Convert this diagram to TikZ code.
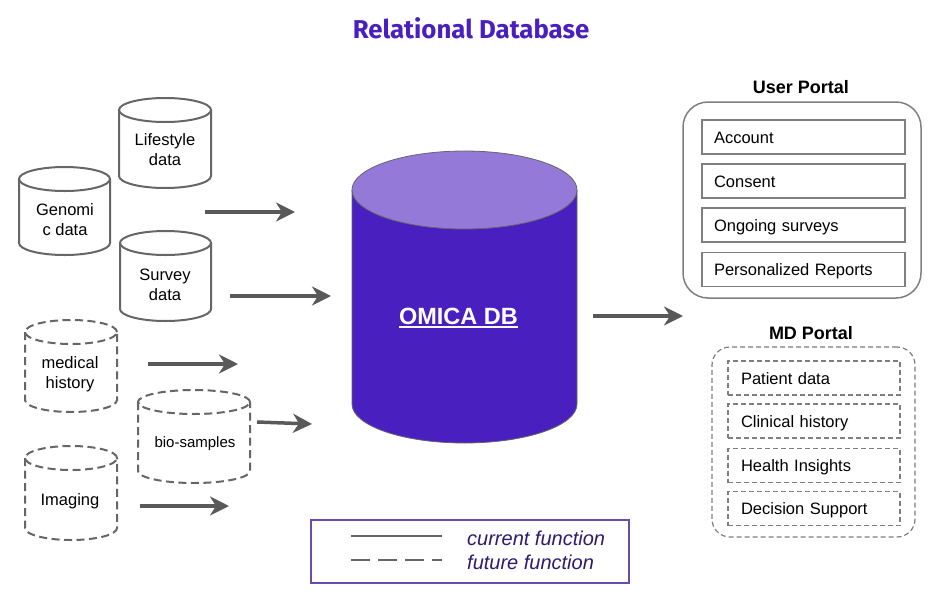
\documentclass[tikz,border=0pt]{standalone}
\usepackage{fontspec}
\setmainfont{Liberation Sans}
\newfontfamily\titlefont{Fira Sans}
\usetikzlibrary{arrows.meta}
\definecolor{arrowgray}{HTML}{595959}
\definecolor{cylgray}{HTML}{666666}
\definecolor{portalgray}{HTML}{7F7F7F}
\definecolor{titlepurple}{HTML}{4A1FC0}
\definecolor{dbbody}{HTML}{4A1FC0}
\definecolor{dbtop}{HTML}{9479D9}
\definecolor{legendpurple}{HTML}{6A4CB0}
\definecolor{legendtext}{HTML}{2E1A6E}
\newcommand\mycyl[7]{% name, x1, x2, ytop, ybot, ry, style
  \pgfmathsetmacro\cxc{(#2+#3)/2}%
  \pgfmathsetmacro\crx{(#3-#2)/2}%
  \draw[#7] (#2,#4+#6) -- (#2,#5-#6) arc[start angle=180,end angle=360,x radius=\crx pt,y radius=#6 pt] -- (#3,#4+#6);
  \draw[#7] (\cxc,#4+#6) ellipse[x radius=\crx pt, y radius=#6 pt];
  \coordinate (#1) at (\cxc,{(#4+#5)/2});
}
\begin{document}
\begin{tikzpicture}[x=1pt,y=-1pt,
  solidcyl/.style={draw=cylgray,line width=2pt},
  dashcyl/.style={draw=cylgray,line width=2pt,dash pattern=on 8pt off 4.5pt},
  cyltext/.style={font=\fontsize{16.5}{20}\selectfont,align=center,inner sep=0pt},
  arr/.style={draw=arrowgray,line width=3.5pt,-{Stealth[length=19pt,width=19pt,inset=6pt]}},
  portaltitle/.style={font=\fontsize{18}{20}\selectfont\bfseries},
  userbox/.style={draw=portalgray,line width=1.3pt,minimum height=34pt,text width=179pt,inner xsep=12pt,align=left,text height=12.4pt,text depth=0pt,font=\fontsize{16.5}{20}\selectfont},
  mdbox/.style={draw=portalgray,line width=1.2pt,dash pattern=on 5pt off 3pt,minimum height=34pt,text width=146pt,inner xsep=13pt,align=left,text height=12.2pt,text depth=0pt,font=\fontsize{16.5}{20}\selectfont},
  legline/.style={draw=cylgray,line width=2pt},
  legtext/.style={font=\fontsize{20}{22}\selectfont\itshape,text=legendtext,anchor=west,inner sep=0pt}
]
\useasboundingbox (0,0) rectangle (930,595);
\fill[white] (0,0) rectangle (930,595);

% title
\node[font=\titlefont\fontsize{25.8}{30}\selectfont\bfseries,text=titlepurple] (title) at (471,28) {Relational Database};

% source cylinders
\mycyl{lifecyl}{119}{211}{98}{188}{12}{solidcyl}
\mycyl{genocyl}{19}{110}{167}{255}{12}{solidcyl}
\mycyl{survcyl}{120}{211}{231}{321}{12}{solidcyl}
\mycyl{medcyl}{25}{117}{320}{412}{12}{dashcyl}
\mycyl{biocyl}{138}{250}{390}{483}{12}{dashcyl}
\mycyl{imgcyl}{25}{117}{446}{540}{12}{dashcyl}

\node[cyltext] (life) at (165,149.5) {Lifestyle\\data};
\node[cyltext] (geno) at (65,219.5) {Genomi\\c data};
\node[cyltext] (surv) at (165,284.5) {Survey\\data};
\node[cyltext] (med) at (70,374) {medical\\history};
\node[cyltext,font=\fontsize{15}{18}\selectfont] (bio) at (195,443.5) {bio-samples};
\node[cyltext] (img) at (70,501) {Imaging};

% OMICA DB
\fill[dbbody] (352,190) -- (352,404) arc[start angle=180,end angle=360,x radius=112.5pt,y radius=39pt] -- (577,190) -- cycle;
\draw[cylgray,line width=0.8pt] (352,190) -- (352,404) arc[start angle=180,end angle=360,x radius=112.5pt,y radius=39pt] -- (577,190);
\draw[cylgray,line width=0.8pt,fill=dbtop] (464.5,190) ellipse[x radius=112.5pt,y radius=39pt];
\node[font=\fontsize{23.5}{26}\selectfont\bfseries,text=white,anchor=base,inner sep=0pt] (omica) at (458.5,324) {OMICA DB};
\draw[white,line width=1.6pt] ([yshift=-3pt]omica.base west) -- ([yshift=-3pt]omica.base east);

% arrows
\coordinate (a1s) at (205,212); \coordinate (a1e) at (295,212);
\coordinate (a2s) at (230,296); \coordinate (a2e) at (331,296);
\coordinate (a3s) at (148,364); \coordinate (a3e) at (238,364);
\coordinate (a4s) at (257,422); \coordinate (a4e) at (312,424);
\coordinate (a5s) at (140,506); \coordinate (a5e) at (229,506);
\coordinate (a6s) at (593,316); \coordinate (a6e) at (683,316);
\draw[arr] (a1s) -- (a1e);
\draw[arr] (a2s) -- (a2e);
\draw[arr] (a3s) -- (a3e);
\draw[arr] (a4s) -- (a4e);
\draw[arr] (a5s) -- (a5e);
\draw[arr] (a6s) -- (a6e);

% User portal
\node[portaltitle] (uptitle) at (801,87.5) {User Portal};
\node[draw=portalgray,line width=1.5pt,rounded corners=25pt,minimum width=238pt,minimum height=196pt] (userportal) at (802,200) {};
\node[userbox] (account) at (803.5,137) {Account};
\node[userbox] (consent) at (803.5,181) {Consent};
\node[userbox] (surveys) at (803.5,225) {Ongoing surveys};
\node[userbox] (reports) at (803.5,269.5) {Personalized Reports};

% MD portal
\node[portaltitle] (mdtitle) at (811,333.5) {MD Portal};
\node[draw=portalgray,line width=1.2pt,dash pattern=on 5pt off 3pt,rounded corners=18pt,minimum width=203pt,minimum height=190pt] (mdportal) at (813.5,442) {};
\node[mdbox] (patient) at (814,378) {Patient data};
\node[mdbox] (clinical) at (814,421) {Clinical history};
\node[mdbox] (insights) at (814,465.5) {Health Insights};
\node[mdbox] (decision) at (814,508.5) {Decision Support};

% legend
\node[draw=legendpurple,line width=2pt,minimum width=318pt,minimum height=63pt] (legend) at (470,551.5) {};
\coordinate (l1s) at (351,536); \coordinate (l1e) at (442,536);
\coordinate (l2s) at (351,560); \coordinate (l2e) at (442,560);
\draw[legline] (l1s) -- (l1e);
\draw[legline,dash pattern=on 19pt off 8pt] (l2s) -- (l2e);
\node[legtext] (cur) at (467,538) {current function};
\node[legtext] (fut) at (467,562) {future function};
\end{tikzpicture}
\end{document}
